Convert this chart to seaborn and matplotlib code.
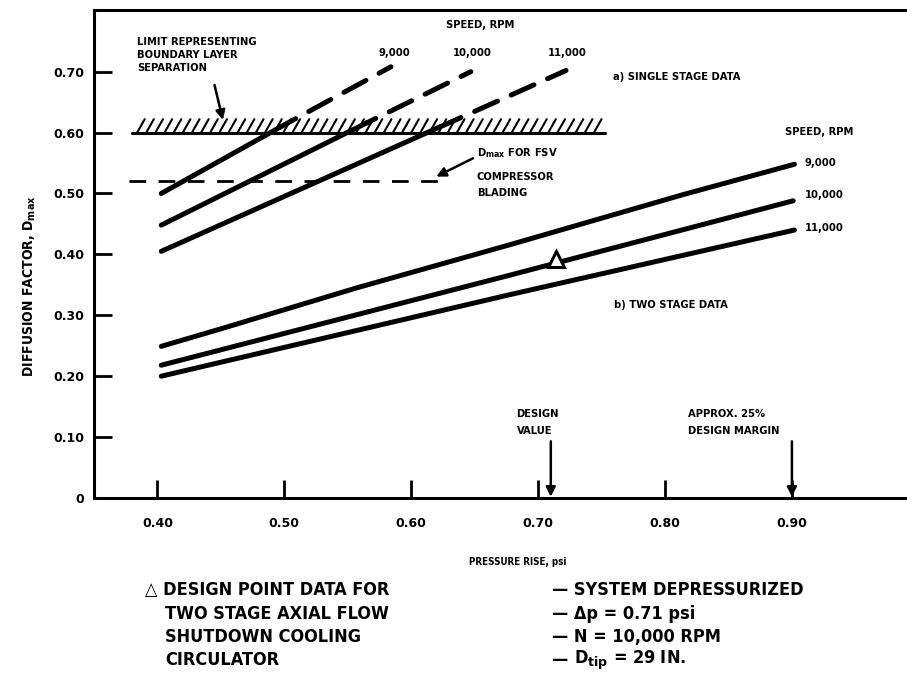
import numpy as np
import pandas as pd
import seaborn as sns
import matplotlib.pyplot as plt

# single stage data: solid up to the separation limit, dashed beyond it
SS_SPEEDS = ["9,000", "10,000", "11,000"]
SS_SOLID_X = [[0.403, 0.502], [0.403, 0.565], [0.403, 0.632]]
SS_SOLID_Y = [[0.500, 0.615], [0.448, 0.616], [0.405, 0.618]]
SS_DASH_X = [[0.502, 0.584], [0.565, 0.647], [0.632, 0.722]]
SS_DASH_Y = [[0.615, 0.708], [0.616, 0.700], [0.618, 0.702]]

# two stage data
TS_SPEEDS = ["9,000", "10,000", "11,000"]
TS_X = [[0.403, 0.452, 0.557, 0.678, 0.814, 0.902],
        [0.403, 0.678, 0.901],
        [0.403, 0.678, 0.902]]
TS_Y = [[0.249, 0.279, 0.345, 0.416, 0.498, 0.548],
        [0.218, 0.366, 0.488],
        [0.200, 0.334, 0.440]]

# reference levels
LIMIT_D = 0.60
LIMIT_X = [0.380, 0.7525]
DMAX_D = 0.52
DMAX_X = [0.378, 0.626]

# design point and margin
DESIGN_PT = (0.714, 0.392)
DESIGN_DP = 0.71
MARGIN_DP = 0.90

X_TICKS = [0.40, 0.50, 0.60, 0.70, 0.80, 0.90]
X_LABELS = ["0.40", "0.50", "0.60", "0.70", "0.80", "0.90"]
Y_TICKS = [0, 0.10, 0.20, 0.30, 0.40, 0.50, 0.60, 0.70]
Y_LABELS = ["0", "0.10", "0.20", "0.30", "0.40", "0.50", "0.60", "0.70"]

sns.set_style("white")
plt.rcParams["font.family"] = ["DejaVu Sans"]
plt.rcParams["font.weight"] = "bold"
plt.rcParams["text.color"] = "black"
plt.rcParams["xtick.color"] = "black"
plt.rcParams["ytick.color"] = "black"

fig = plt.figure(figsize=(9.07, 6.78), dpi=100)
ax = fig.add_axes([0.1036, 0.2655, 0.8964, 0.7195])

LW = 3.6
cond = dict(fontstretch="condensed", fontweight="bold", color="black")

# two stage curves
rows = []
for spd, xs, ys in zip(TS_SPEEDS, TS_X, TS_Y):
    for x, y in zip(xs, ys):
        rows.append({"pressure": x, "dfactor": y, "speed": spd})
df_ts = pd.DataFrame(rows)
sns.lineplot(data=df_ts, x="pressure", y="dfactor", hue="speed", units="speed",
             estimator=None, sort=False, palette=["black"] * 3, legend=False,
             lw=LW, solid_capstyle="round", ax=ax)

# single stage curves
for xs, ys in zip(SS_SOLID_X, SS_SOLID_Y):
    sns.lineplot(x=xs, y=ys, color="black", lw=LW, sort=False,
                 solid_capstyle="round", ax=ax)
for xs, ys in zip(SS_DASH_X, SS_DASH_Y):
    sns.lineplot(x=xs, y=ys, color="black", lw=LW, sort=False,
                 linestyle=(3, (5, 3)), dash_capstyle="round", ax=ax)

# boundary layer separation limit with hatching
ax.plot(LIMIT_X, [LIMIT_D, LIMIT_D], color="black", lw=2.2)
for hx in np.arange(LIMIT_X[0] + 0.004, LIMIT_X[1] - 0.002, 0.0072):
    ax.plot([hx, hx + 0.006], [LIMIT_D, LIMIT_D + 0.022], color="black", lw=1.5)

# Dmax line
ax.plot(DMAX_X, [DMAX_D, DMAX_D], color="black", lw=2.0, linestyle=(0, (6, 4.5)))

# design point marker
ax.plot(*DESIGN_PT, marker="^", ms=11, mfc="white", mec="black", mew=2.2)

arrow = dict(arrowstyle="-|>", color="black", lw=1.8, mutation_scale=14,
             shrinkA=0, shrinkB=0)

# annotations
ax.text(0.384, 0.7485, "LIMIT REPRESENTING", fontsize=8, va="center", **cond)
ax.text(0.384, 0.727, "BOUNDARY LAYER", fontsize=8, va="center", **cond)
ax.text(0.384, 0.706, "SEPARATION", fontsize=8, va="center", **cond)
ax.annotate("", xy=(0.4516, 0.6207), xytext=(0.445, 0.678), arrowprops=arrow)

ax.text(0.654, 0.7763, "SPEED, RPM", fontsize=8, ha="center", va="center", **cond)
ax.text(0.587, 0.7304, SS_SPEEDS[0], fontsize=8, ha="center", va="center", **cond)
ax.text(0.648, 0.7304, SS_SPEEDS[1], fontsize=8, ha="center", va="center", **cond)
ax.text(0.723, 0.7304, SS_SPEEDS[2], fontsize=8, ha="center", va="center", **cond)
ax.text(0.759, 0.6911, "a) SINGLE STAGE DATA", fontsize=8, va="center", **cond)

ax.text(0.6516, 0.5665, r"D$_{\mathbf{max}}$ FOR FSV", fontsize=8, va="center", **cond)
ax.text(0.6516, 0.5271, "COMPRESSOR", fontsize=8, va="center", **cond)
ax.text(0.6516, 0.5009, "BLADING", fontsize=8, va="center", **cond)
ax.annotate("", xy=(0.6197, 0.5277), xytext=(0.6487, 0.5578), arrowprops=arrow)

ax.text(0.8945, 0.6009, "SPEED, RPM", fontsize=8, va="center", **cond)
ax.text(0.910, 0.5501, TS_SPEEDS[0], fontsize=8, va="center", **cond)
ax.text(0.910, 0.4976, TS_SPEEDS[1], fontsize=8, va="center", **cond)
ax.text(0.910, 0.4435, TS_SPEEDS[2], fontsize=8, va="center", **cond)
ax.text(0.760, 0.3173, "b) TWO STAGE DATA", fontsize=8, va="center", **cond)

ax.text(0.683, 0.1386, "DESIGN", fontsize=8, va="center", **cond)
ax.text(0.683, 0.1107, "VALUE", fontsize=8, va="center", **cond)
ax.annotate("", xy=(DESIGN_DP, 0.002), xytext=(DESIGN_DP, 0.093), arrowprops=arrow)

ax.text(0.818, 0.1386, "APPROX. 25%", fontsize=8, va="center", **cond)
ax.text(0.818, 0.1107, "DESIGN MARGIN", fontsize=8, va="center", **cond)
ax.annotate("", xy=(MARGIN_DP, 0.002), xytext=(MARGIN_DP, 0.093), arrowprops=arrow)

# axes
ax.set_xlim(0.35, 0.9907)
ax.set_ylim(0, 0.801)
ax.set_xticks(X_TICKS)
ax.set_xticklabels(X_LABELS, fontsize=9, fontweight="bold")
ax.set_yticks(Y_TICKS)
ax.set_yticklabels(Y_LABELS, fontsize=9, fontweight="bold")
ax.tick_params(axis="both", direction="in", length=13, width=2.0, color="black",
               bottom=True, left=True, top=False, right=False)
ax.tick_params(axis="x", pad=13.5)
ax.tick_params(axis="y", pad=7)
ax.set_xlabel("")
ax.set_ylabel("")
for side in ["left", "bottom", "top"]:
    ax.spines[side].set_linewidth(2.2)
    ax.spines[side].set_color("black")
ax.spines["right"].set_visible(False)

fig.text(30 / 907, 1 - 286 / 678, r"DIFFUSION FACTOR, D$_{\mathbf{max}}$", rotation=90,
         fontsize=10, ha="center", va="center", **cond)
fig.text(518 / 907, 1 - 562 / 678, "PRESSURE RISE, psi", fontsize=7,
         ha="center", va="center", **cond)

# footnote block
foot = dict(fontsize=13, va="center", **cond)
fig.text(145 / 907, 1 - 590 / 678, "\u25b3 DESIGN POINT DATA FOR", **foot)
fig.text(165 / 907, 1 - 614 / 678, "TWO STAGE AXIAL FLOW", **foot)
fig.text(165 / 907, 1 - 637 / 678, "SHUTDOWN COOLING", **foot)
fig.text(165 / 907, 1 - 660 / 678, "CIRCULATOR", **foot)
fig.text(552 / 907, 1 - 590 / 678, "\u2014 SYSTEM DEPRESSURIZED", **foot)
fig.text(552 / 907, 1 - 614 / 678, "\u2014 \u0394p = 0.71 psi", **foot)
fig.text(552 / 907, 1 - 637 / 678, "\u2014 N = 10,000 RPM", **foot)
dash = fig.text(552 / 907, 1 - 660 / 678, "\u2014 ", **foot)
ax.annotate(r"D$_{\mathbf{tip}}$ = 29 IN.", xy=(1, 0.5), xycoords=dash,
            ha="left", va="center", fontsize=13, fontweight="bold",
            fontstretch="condensed", color="black", annotation_clip=False)

fig.savefig("out.png", dpi=100)
